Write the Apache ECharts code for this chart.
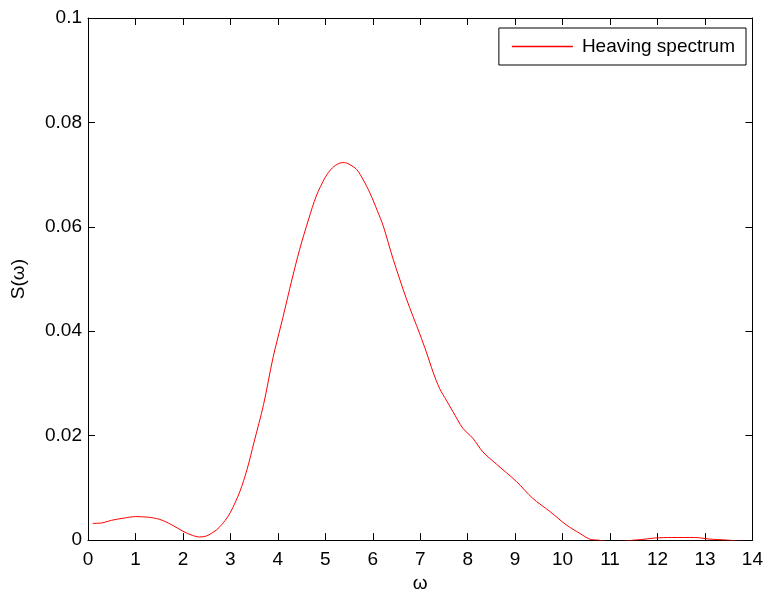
<!DOCTYPE html>
<html>
<head>
<meta charset="utf-8">
<script src="https://cdn.jsdelivr.net/npm/echarts@6/dist/echarts.min.js"></script>
<style>html,body{margin:0;padding:0;background:#fff}#c{width:766px;height:598px}</style>
</head>
<body>
<div id="c"></div>
<script>
const omega = [0.1,0.3,0.5,0.75,1.0,1.25,1.5,1.75,2.0,2.2,2.35,2.5,2.7,2.85,3.0,3.2,3.35,3.5,3.7,3.9,4.1,4.3,4.46,4.65,4.81,5.0,5.15,5.3,5.4,5.5,5.66,5.8,5.94,6.1,6.22,6.43,6.71,6.99,7.13,7.27,7.41,7.55,7.69,7.9,8.11,8.32,8.6,9.03,9.37,9.73,10.08,10.36,10.6,10.75,11.0,11.3,11.5,11.66,11.94,12.3,12.78,13.09,13.48,13.7,14.0];
const spectrum = [0.0032,0.0033,0.0038,0.0042,0.0045,0.0044,0.0040,0.0030,0.0017,0.0009,0.0006,0.0008,0.0019,0.0033,0.0053,0.0093,0.0135,0.0188,0.026,0.035,0.0424,0.050,0.0557,0.0615,0.0659,0.0695,0.0713,0.0722,0.0723,0.0720,0.0710,0.0690,0.0665,0.0630,0.0602,0.0538,0.0462,0.0395,0.0360,0.0322,0.0290,0.0268,0.0246,0.0214,0.0195,0.0169,0.0146,0.0112,0.0080,0.0055,0.0029,0.0013,0.0001,0.0,-0.0003,-0.0002,0.0,0.0001,0.0004,0.0005,0.0005,0.0002,0.0,-0.0002,-0.0003];
const seriesName = 'Heaving spectrum';
const xTicks = {min:0, max:14, interval:1};
const yTicks = {min:0, max:0.1, interval:0.02};

const font = 'Liberation Sans, Arial, Helvetica, sans-serif';
const fs = 19;
const chart = echarts.init(document.getElementById('c'), null, {renderer:'canvas'});
const axisLine = {show:true, onZero:false, lineStyle:{color:'#000', width:1}};
const tick = {show:true, inside:true, length:7, lineStyle:{color:'#000', width:1}};
chart.setOption({
  backgroundColor:'#fff',
  animation:false,
  grid:{left:88, right:13, top:18, bottom:56},
  legend:{
    data:[seriesName], right:20, top:28,
    borderColor:'#000', borderWidth:1, padding:[9,11,9,13],
    icon:'rect', itemWidth:61, itemHeight:1.5, itemGap:0,
    itemStyle:{color:'#ff0000'},
    textStyle:{fontFamily:font, fontSize:fs, color:'#000', padding:[0,0,0,4]},
    backgroundColor:'#fff'
  },
  xAxis:[
    {type:'value', min:xTicks.min, max:xTicks.max, interval:xTicks.interval, name:'ω', nameLocation:'middle', nameGap:33,
     nameTextStyle:{fontFamily:font, fontSize:fs, color:'#000'},
     axisLine:axisLine, axisTick:tick, splitLine:{show:false},
     axisLabel:{fontFamily:font, fontSize:fs, color:'#000', margin:10}},
    {type:'value', position:'top', min:xTicks.min, max:xTicks.max, interval:xTicks.interval,
     axisLine:axisLine, axisTick:tick, splitLine:{show:false}, axisLabel:{show:false}}
  ],
  yAxis:[
    {type:'value', min:yTicks.min, max:yTicks.max, interval:yTicks.interval, name:'S(ω)', nameLocation:'middle', nameGap:60,
     nameTextStyle:{fontFamily:font, fontSize:fs, color:'#000'},
     axisLine:axisLine, axisTick:tick, splitLine:{show:false},
     axisLabel:{fontFamily:font, fontSize:fs, color:'#000', margin:6}},
    {type:'value', position:'right', min:yTicks.min, max:yTicks.max, interval:yTicks.interval,
     axisLine:axisLine, axisTick:tick, splitLine:{show:false}, axisLabel:{show:false}}
  ],
  series:[{
    name:seriesName, type:'line', xAxisIndex:0, yAxisIndex:0,
    data:omega.map((w,i)=>[w, spectrum[i]]),
    showSymbol:false, symbol:'none', smooth:0.3, clip:true,
    lineStyle:{color:'#ff0000', width:1}, itemStyle:{color:'#ff0000'}
  }]
});
</script>
</body>
</html>
